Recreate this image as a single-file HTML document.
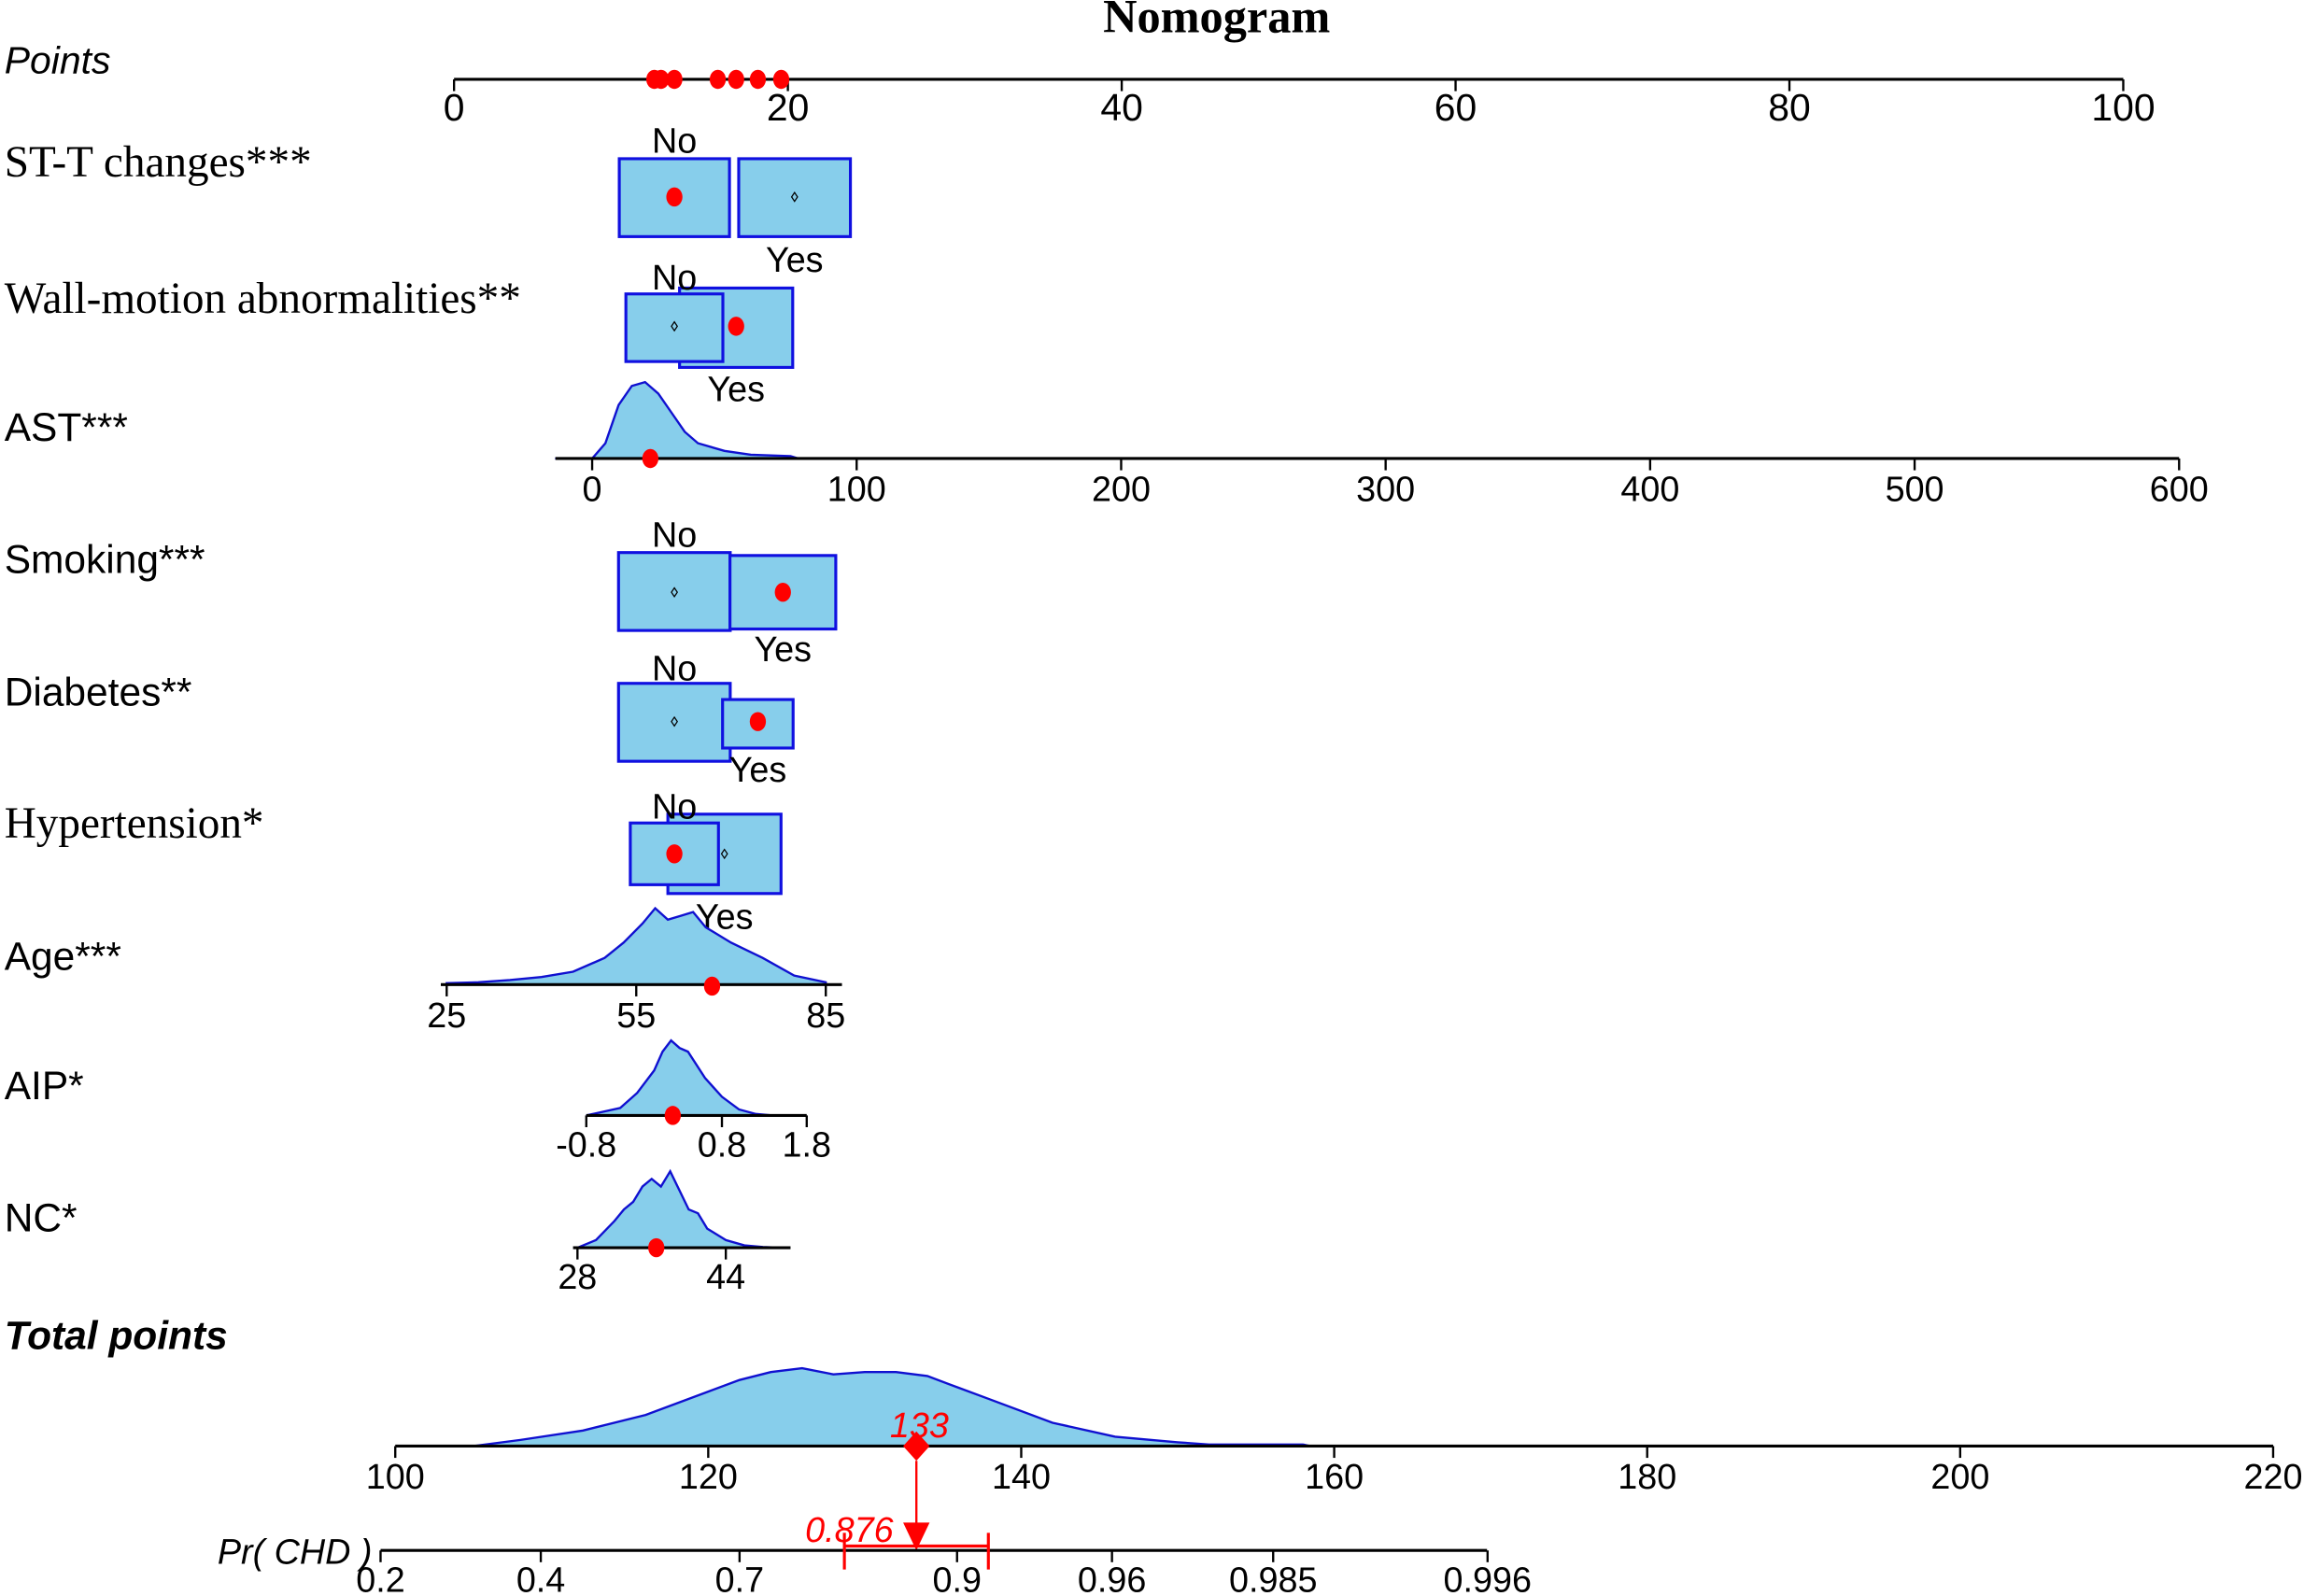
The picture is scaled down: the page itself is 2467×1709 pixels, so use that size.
<!DOCTYPE html>
<html><head><meta charset="utf-8"><style>
html,body{margin:0;padding:0;background:#fff;}
svg{display:block;}
.sans{font-family:"Liberation Sans",Arial,sans-serif;}
.serif{font-family:"Liberation Serif","Times New Roman",serif;}
</style></head><body>
<svg id="chart" width="2467" height="1709" viewBox="0 0 1568 1086" preserveAspectRatio="none" xmlns="http://www.w3.org/2000/svg">
<text class="serif" x="828" y="22" font-size="32" font-weight="bold" text-anchor="middle">Nomogram</text>
<g id="g" fill="none"></g>
</svg>
<script>
// ---- data ----
const pointsTicks=[0,20,40,60,80,100];
const selectedPoints=[12,12.4,13.2,15.8,16.9,18.2,19.6];
const astTicks=[0,100,200,300,400,500,600];
const astX=[-14,0,5,10,15,20,25,30,35,40,50,60,75,78];
const astD=[0,0,0.2,0.7,0.95,1.0,0.85,0.6,0.35,0.2,0.1,0.05,0.03,0];
const astValue=22;
const ageTicks=[25,55,85];
const ageX=[25,30,35,40,45,50,53,56,58,60,62,64,66,70,75,80,85];
const ageD=[0.02,0.03,0.06,0.1,0.17,0.35,0.55,0.8,1.0,0.85,0.9,0.95,0.75,0.55,0.35,0.12,0.03];
const ageValue=67;
const aipTicks=[-0.8,0.8,1.8];
const aipX=[-0.8,-0.4,-0.2,0,0.1,0.2,0.3,0.4,0.6,0.8,1.0,1.2,1.4];
const aipD=[0,0.1,0.3,0.6,0.85,1.0,0.9,0.85,0.5,0.25,0.08,0.02,0];
const aipValue=0.22;
const ncTicks=[28,44];
const ncX=[28,30,32,33,34,35,36,37,38,39,40,41,42,44,46,48,50];
const ncD=[0,0.1,0.35,0.5,0.6,0.8,0.9,0.8,1.0,0.75,0.5,0.45,0.25,0.1,0.03,0.01,0];
const ncValue=36.5;
const totalTicks=[100,120,140,160,180,200,220];
const totalX=[105,108,112,116,120,122,124,126,128,130,132,134,136,138,142,146,150,152,158,158.5];
const totalD=[0,0.08,0.2,0.4,0.7,0.85,0.95,1.0,0.92,0.95,0.95,0.9,0.75,0.6,0.3,0.12,0.05,0.02,0.02,0];
const totalValue=133.3;
const totalLabel="133";
const probLabels=["0.2","0.4","0.7","0.9","0.96","0.985","0.996"];
const probTotals=[99.06,109.3,122.0,135.9,145.8,156.1,169.8];
const probValue="0.876";
const ciTotals=[128.7,137.9];
const catNames=["ST-T changes***","Wall-motion abnormalities**","Smoking***","Diabetes**","Hypertension*"];
const catNo=[13.2,13.2,13.2,13.2,13.2];
const catYes=[20.4,16.9,19.7,18.2,16.2];
const catSel=[0,1,1,1,0];

// ---- scales ----
const g=document.getElementById('g');
const NS='http://www.w3.org/2000/svg';
function el(t,a,txt){const e=document.createElementNS(NS,t);for(const k in a)e.setAttribute(k,a[k]);if(txt!==undefined)e.textContent=txt;g.appendChild(e);return e;}
const pX=v=>309+v*11.36;
const astS=v=>403+v*1.8;
const ageS=v=>304+(v-25)*4.3;
const aipS=v=>399+(v+0.8)*57.7;
const ncS=v=>393+(v-28)*6.31;
const totS=v=>269+(v-100)*10.65;

function axis(scale,ticks,y,x0,x1,name,fs,ly){
  const a=el('line',{x1:x0,x2:x1,y1:y,y2:y,stroke:'#000','stroke-width':2});
  
  ticks.forEach((t,i)=>{
    const x=scale(t);
    const l=el('line',{x1:x,x2:x,y1:y,y2:y+8,stroke:'#000','stroke-width':1.5});
    
    const tx=el('text',{x:x,y:ly,'font-size':fs,'text-anchor':'middle',fill:'#000',class:'sans'},String(t));
    
  });
}
function label(txt,y,cls,extra){
  const t=el('text',Object.assign({x:3,y:y,'font-size':28,fill:'#000',class:cls},extra||{}),txt);
  
}
function density(scale,xs,ds,base,h,name){
  let d='M'+scale(xs[0])+','+base;
  xs.forEach((x,i)=>{d+=' L'+scale(x).toFixed(1)+','+(base-ds[i]*h).toFixed(1);});
  d+=' L'+scale(xs[xs.length-1])+','+base+' Z';
  const p=el('path',{d:d,fill:'#87ceeb',stroke:'#1010d0','stroke-width':1.5});
  
}
function dot(x,y,name){const c=el('ellipse',{cx:x,cy:y,rx:5.5,ry:6.5,fill:'#ff0000'});
  }

label('Points',50,'sans',{'font-style':'italic','font-size':26});
axis(pX,pointsTicks,54,309,1445,'points',26,82);
selectedPoints.forEach(v=>dot(pX(v),54,'points-marker'));

const rowY=[134,222,403,491,581];
const labelY=[120,213,390,480,570];
const noBox=[[419,108,75,53],[423,200,66,46],[418,376,76,53],[418,465,76,53],[426,560,60,42]];
const yesBox=[[502,108,76,53],[461,196,77,54],[494,378,72,50],[491,476,48,33],[453,554,77,54]];
const noLblY=[104,197,372,463,557];
const yesLblY=[185,273,450,532,632];
catNames.forEach((n,i)=>{
  const serif=(i<2||i==4);
  const lt=el('text',{x:3,y:labelY[i],'font-size':serif?30:27,fill:'#000',class:serif?'serif':'sans'},n);
  
  const order=(i==1||i==4)?[yesBox,noBox]:[noBox,yesBox];
  order.forEach(B=>{const b=B[i];const yes=B===yesBox;const w=b[2],h=b[3];
    const cx=yes?pX(catYes[i]):pX(catNo[i]);
    const r=el('rect',{x:cx-w/2,y:b[1],width:w,height:h,fill:'#87ceeb',stroke:'#1010e0','stroke-width':2});
    
    if((catSel[i]==1)!==yes){const d=el('path',{d:`M${cx},${rowY[i]-3} l2,3 l-2,3 l-2,-3z`,fill:'none',stroke:'#000','stroke-width':0.8});
      }
  });
  const tn=el('text',{x:pX(catNo[i]),y:noLblY[i],'font-size':24,'text-anchor':'middle',class:'sans',fill:'#000'},'No');
  
  const ty=el('text',{x:pX(catYes[i]),y:yesLblY[i],'font-size':24,'text-anchor':'middle',class:'sans',fill:'#000'},'Yes');
  
  dot(catSel[i]?pX(catYes[i]):pX(catNo[i]),rowY[i],'selected-value-marker');
});

label('AST***',300,'sans',{'font-size':27});
density(astS,astX,astD,312,52,'ast');
axis(astS,astTicks,312,378,1483,'ast',24,341);
dot(astS(astValue),312,'ast-marker');
label('Age***',660,'sans',{'font-size':27});
density(ageS,ageX,ageD,670,52,'age');
axis(ageS,ageTicks,670,300,573,'age',24,699);
dot(ageS(ageValue),671,'age-marker');
label('AIP*',748,'sans',{'font-size':27});
density(aipS,aipX,aipD,759,51,'aip');
axis(aipS,aipTicks,759,399,549,'aip',24,787);
dot(aipS(aipValue),759,'aip-marker');
label('NC*',838,'sans',{'font-size':27});
density(ncS,ncX,ncD,849,52,'nc');
axis(ncS,ncTicks,849,390,538,'nc',24,877);
dot(ncS(ncValue),849,'nc-marker');
label('Total points',918,'sans',{'font-style':'italic','font-weight':'bold','font-size':27});
density(totS,totalX,totalD,984,53,'total-points');
axis(totS,totalTicks,984,269,1547,'total-points',24,1013);
const tx=totS(totalValue);
const dm=el('path',{d:`M${tx},${974} l9,10 l-9,10 l-9,-10z`,fill:'#ff0000'});

const tt=el('text',{x:tx+2,y:978,'font-size':24,'text-anchor':'middle',fill:'#ff0000',class:'sans','font-style':'italic'},totalLabel);

const ln=el('line',{x1:tx,x2:tx,y1:994,y2:1040,stroke:'#ff0000','stroke-width':1.5});

const ar=el('path',{d:`M${tx-9},${1036} L${tx+9},${1036} L${tx},${1055}z`,fill:'#ff0000'});

const pl=el('text',{x:148,y:1064,'font-size':24,'font-style':'italic',class:'sans',fill:'#000'},'Pr( CHD )');

const pa=el('line',{x1:259,x2:1012,y1:1055,y2:1055,stroke:'#000','stroke-width':2});

probLabels.forEach((l,i)=>{const x=totS(probTotals[i]);
  const t=el('line',{x1:x,x2:x,y1:1055,y2:1063,stroke:'#000','stroke-width':1.5});
  
  const s=el('text',{x:x,y:1083,'font-size':24,'text-anchor':'middle',class:'sans',fill:'#000'},l);
  });
const c0=totS(ciTotals[0]),c1=totS(ciTotals[1]);
const ci=el('path',{d:`M${c0},1052 L${c1},1052 M${c0},1043 L${c0},1068 M${c1},1043 L${c1},1068`,stroke:'#ff0000','stroke-width':2});

const pv=el('text',{x:578,y:1049,'font-size':24,'text-anchor':'middle',fill:'#ff0000',class:'sans','font-style':'italic'},probValue);

</script>
</body></html>
